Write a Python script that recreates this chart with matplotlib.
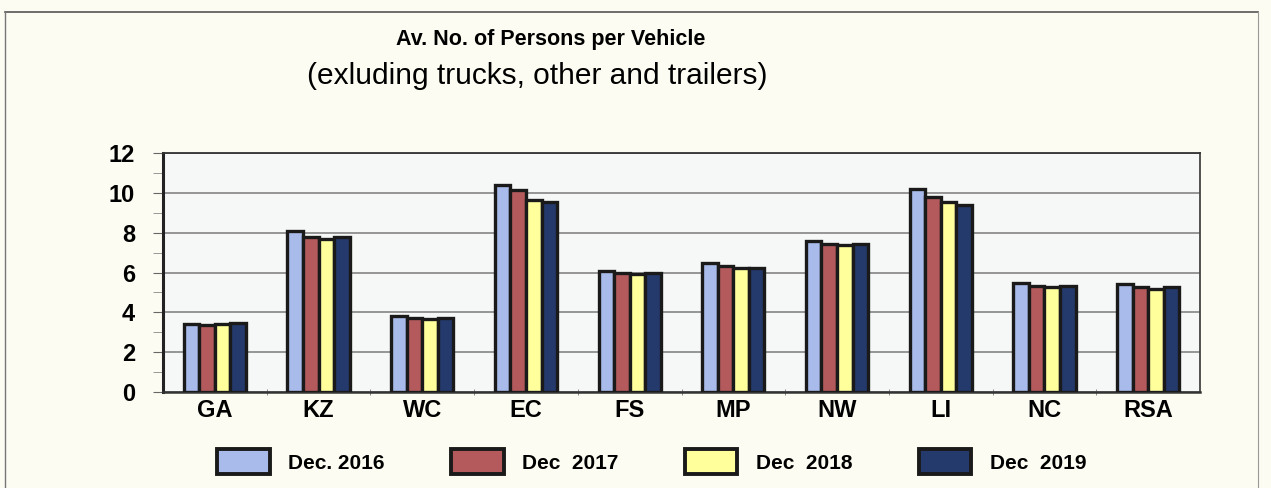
import matplotlib
matplotlib.use('Agg')
import matplotlib.pyplot as plt
from matplotlib.patches import Patch
from matplotlib.ticker import MultipleLocator
import numpy as np

matplotlib.rc('font', family=['Liberation Sans', 'DejaVu Sans'])

regions = ['GA', 'KZ', 'WC', 'EC', 'FS', 'MP', 'NW', 'LI', 'NC', 'RSA']
dec_2016 = [3.4, 8.1, 3.8, 10.4, 6.1, 6.5, 7.6, 10.2, 5.45, 5.4]
dec_2017 = [3.35, 7.8, 3.7, 10.15, 5.95, 6.35, 7.45, 9.8, 5.3, 5.25]
dec_2018 = [3.4, 7.7, 3.65, 9.65, 5.9, 6.25, 7.4, 9.55, 5.25, 5.15]
dec_2019 = [3.45, 7.8, 3.7, 9.55, 6.0, 6.25, 7.45, 9.4, 5.3, 5.25]
series = ['Dec. 2016', 'Dec  2017', 'Dec  2018', 'Dec  2019']
colors = ['#a9bbea', '#b55a5c', '#ffff9c', '#24396c']

fig = plt.figure(figsize=(12.71, 4.88), dpi=100)
fig.patch.set_facecolor('#fdfcf2')
ax = fig.add_axes([163 / 1271, 1 - 392 / 488, (1200 - 163) / 1271, (392 - 153) / 488])
ax.set_facecolor('#f5f8f6')

x = np.arange(len(regions))
w = 0.15
for i, (vals, c) in enumerate(zip([dec_2016, dec_2017, dec_2018, dec_2019], colors)):
    ax.bar(x + (i - 1.5) * w, vals, w, color=c, edgecolor='#1a1a1a', linewidth=2.4, zorder=3)

ax.set_xlim(-0.5, len(regions) - 0.5)
ax.set_ylim(0, 12)
ax.yaxis.set_major_locator(MultipleLocator(2))
ax.yaxis.set_minor_locator(MultipleLocator(1))
ax.grid(axis='y', which='major', color='#7a7a7a', linewidth=1.1, zorder=0)
ax.set_xticks(x)
ax.set_xticklabels(regions, fontsize=17, fontweight='bold')
ax.set_xticks(np.arange(0.5, len(regions) - 0.5), minor=True)
ax.tick_params(axis='x', which='major', length=0, pad=5)
ax.tick_params(axis='x', which='minor', length=5, color='#777777', direction='inout')
ax.tick_params(axis='y', which='major', labelsize=17, length=7, color='#666666', pad=13)
ax.tick_params(axis='y', which='minor', length=7, color='#888888')
for lbl in ax.get_yticklabels():
    lbl.set_fontweight('bold')

ax.spines['left'].set_linewidth(2.2)
ax.spines['left'].set_color('#222222')
ax.spines['bottom'].set_linewidth(1.8)
ax.spines['bottom'].set_color('#333333')
ax.spines['top'].set_color('#333333')
ax.spines['top'].set_linewidth(1.3)
ax.spines['right'].set_color('#444444')
ax.spines['right'].set_linewidth(1.3)

fig.text(0.433, 0.92, 'Av. No. of Persons per Vehicle', ha='center', va='center',
         fontsize=15.5, fontweight='bold')
fig.text(0.423, 0.845, '(exluding trucks, other and trailers)', ha='center', va='center',
         fontsize=21.5)

handles = [Patch(facecolor=c, edgecolor='#1a1a1a', linewidth=2.8) for c in colors]
fig.legend(handles, series, loc='center', bbox_to_anchor=(0.513, 0.054), ncol=4, frameon=False,
           prop={'size': 15, 'weight': 'bold'}, handlelength=2.5, handleheight=1.5,
           columnspacing=3.2, handletextpad=0.9)

# outer frame of the scanned chart
fig.add_artist(plt.Line2D([5 / 1271, 1258 / 1271], [1 - 12 / 488, 1 - 12 / 488], color='#555555', lw=1.2))
fig.add_artist(plt.Line2D([5 / 1271, 5 / 1271], [0, 1 - 12 / 488], color='#777777', lw=1.0))
fig.add_artist(plt.Line2D([1258 / 1271, 1258 / 1271], [0, 1 - 12 / 488], color='#999999', lw=0.8))

fig.savefig('out.png', dpi=100, facecolor=fig.get_facecolor())
